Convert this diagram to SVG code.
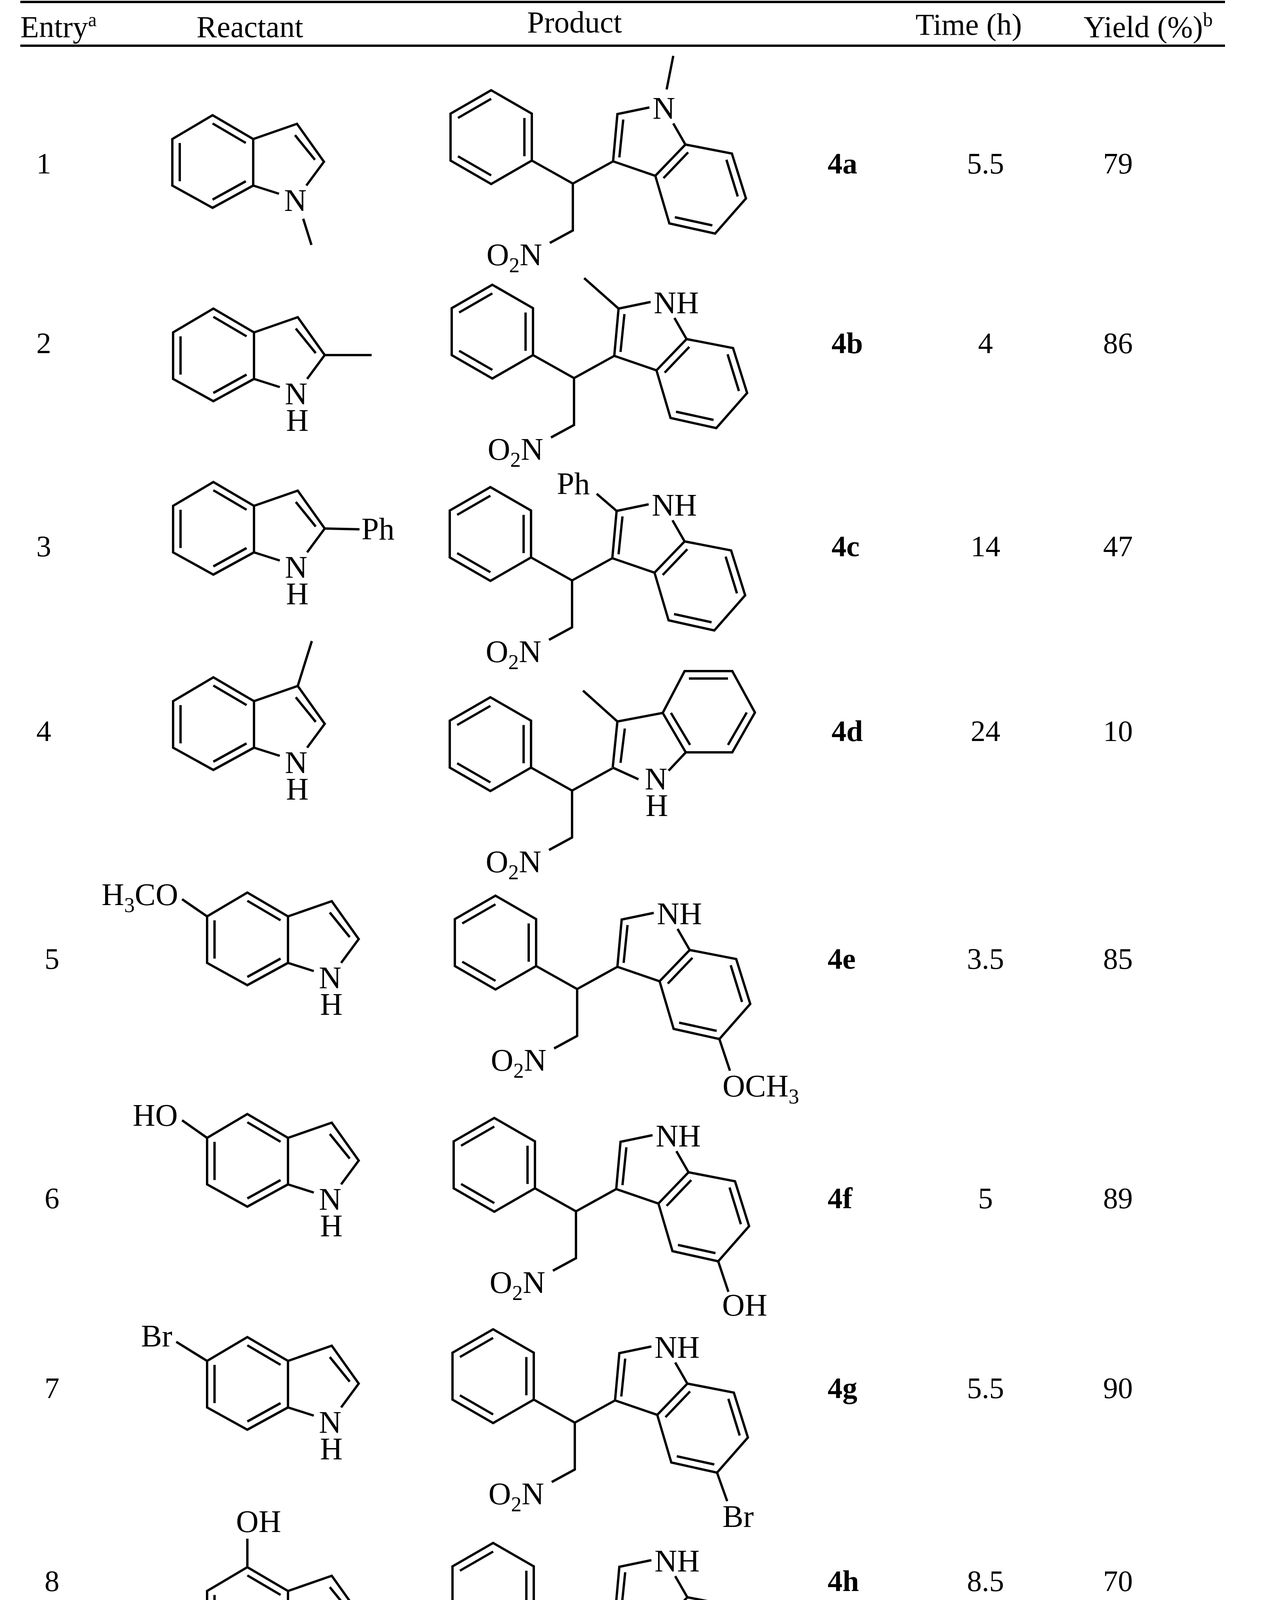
<svg xmlns="http://www.w3.org/2000/svg" width="3245" height="6665" viewBox="0 0 3245 6665">
<style>
.b{fill:none;stroke:#000;stroke-width:6;stroke-linejoin:miter}
.r{stroke:#000;stroke-width:6}
text{font-family:"Liberation Serif","Times New Roman",serif;fill:#000}
.a{font-size:80px}
.h{font-size:78px}
.n{font-size:76px}
.bo{font-size:76px;font-weight:bold}
.s{font-size:54px}
</style>
<defs>
<g id="frag">
<path class="b" d="M-105,-59 L0,0 L0,120 L-59,152 M0,0 L103,-57 M-209,-239 L-105,-179 L-105,-59 L-209,1 L-313,-59 L-313,-179 Z M-294,-168 L-209,-217 M-124,-168 L-124,-70 M-294,-70 L-209,-21"/>
<text class="a" x="-221" y="209">O<tspan class="s" dy="18">2</tspan><tspan dy="-18">N</tspan></text>
</g>
<g id="ind5"><path class="b" d="M103,-57 L114,-178 L196,-195 M257,-154 L288,-100 L211,-20 L103,-57 M119,-67 L129,-164 M232,-14 L295,-80"/></g>
<g id="ind6"><path class="b" d="M288,-100 L407,-77 L443,38 L364,128 L247,102 L211,-20 M393,-61 L422,33 M357,107 L261,86"/></g>
<g id="rind"><path class="b" d="M0,0 L-104,57 L-207,0 L-207,-119 L-104,-180 L0,-119 Z M0,-119 L112,-158 L181,-61 L136,0 M66,21 L0,0 M-188,-11 L-188,-109 M-104,-159 L-19,-109 M-104,36 L-19,-11 M107,-129 L158,-66"/></g>
<g id="rnh"><text class="a" x="79" y="65">N</text><text class="a" x="82" y="133">H</text></g>
</defs>

<g id="table-lines">
<path class="r" d="M52,5 H3135 M52,117 H3135 M20,4437 H3200 M20,4480 H3200 M20,4597 H3200 M34,6620 H3170"/>
</g>

<g id="header1">
<text class="h" x="52" y="95">Entry<tspan font-size="50" dy="-28">a</tspan></text>
<text class="h" x="503" y="95">Reactant</text>
<text class="h" x="1349" y="83">Product</text>
<text class="h" x="2343" y="89">Time (h)</text>
<text class="h" x="2773" y="95">Yield (%)<tspan font-size="50" dy="-28">b</tspan></text>
</g>
<g id="header2">
<text class="h" x="17" y="4563">Entry<tspan font-size="50" dy="-28">a</tspan></text>
<text class="h" x="616" y="4563">Reactant</text>
<text class="h" x="1388" y="4556">Product</text>
<text class="h" x="2324" y="4563">Time (h)</text>
<text class="h" x="2696" y="4563">Yield (%)<tspan font-size="50" dy="-28">b</tspan></text>
</g>

<g id="entries">
<text class="n" x="93" y="444">1</text>
<text class="n" x="93" y="904">2</text>
<text class="n" x="93" y="1424">3</text>
<text class="n" x="93" y="1897">4</text>
<text class="n" x="114" y="2480">5</text>
<text class="n" x="114" y="3093">6</text>
<text class="n" x="114" y="3579">7</text>
<text class="n" x="114" y="4073">8</text>
<text class="n" x="93" y="5002">9</text>
<text class="n" x="93" y="5467">10</text>
<text class="n" x="93" y="5847">11</text>
<text class="n" x="93" y="6312">12</text>
</g>
<g id="labels">
<text class="bo" x="2118" y="444">4a</text>
<text class="bo" x="2128" y="904">4b</text>
<text class="bo" x="2128" y="1424">4c</text>
<text class="bo" x="2128" y="1897">4d</text>
<text class="bo" x="2118" y="2480">4e</text>
<text class="bo" x="2118" y="3093">4f</text>
<text class="bo" x="2118" y="3579">4g</text>
<text class="bo" x="2118" y="4073">4h</text>
<text class="bo" x="2118" y="5002">4i</text>
<text class="bo" x="2118" y="5467">4j</text>
<text class="bo" x="2118" y="5847">4k</text>
<text class="bo" x="2118" y="6312">4l</text>
</g>
<g id="times" text-anchor="middle">
<text class="n" x="2522" y="444">5.5</text>
<text class="n" x="2522" y="904">4</text>
<text class="n" x="2522" y="1424">14</text>
<text class="n" x="2522" y="1897">24</text>
<text class="n" x="2522" y="2480">3.5</text>
<text class="n" x="2522" y="3093">5</text>
<text class="n" x="2522" y="3579">5.5</text>
<text class="n" x="2522" y="4073">8.5</text>
<text class="n" x="2565" y="5002">24</text>
<text class="n" x="2565" y="5467">36</text>
<text class="n" x="2565" y="5847">4</text>
<text class="n" x="2562" y="6312">10</text>
</g>
<g id="yields" text-anchor="middle">
<text class="n" x="2861" y="444">79</text>
<text class="n" x="2861" y="904">86</text>
<text class="n" x="2861" y="1424">47</text>
<text class="n" x="2861" y="1897">10</text>
<text class="n" x="2861" y="2480">85</text>
<text class="n" x="2861" y="3093">89</text>
<text class="n" x="2861" y="3579">90</text>
<text class="n" x="2861" y="4073">70</text>
<text class="n" x="2958" y="5002">55</text>
<text class="n" x="2958" y="5467">68</text>
<text class="n" x="2958" y="5847">85</text>
<text class="n" x="2958" y="6312">79</text>
</g>

<!-- Reactants -->
<g id="r1" transform="translate(648,475)"><use href="#rind"/><text class="a" x="79" y="65">N</text><path class="b" d="M128,85 L149,152"/></g>
<g id="r2" transform="translate(650,970)"><use href="#rind"/><use href="#rnh"/><path class="b" d="M181,-61 L301,-61"/></g>
<g id="r3" transform="translate(650,1414)"><use href="#rind"/><use href="#rnh"/><path class="b" d="M181,-61 L270,-59"/><text class="a" x="275" y="-33">Ph</text></g>
<g id="r4" transform="translate(650,1914)"><use href="#rind"/><use href="#rnh"/><path class="b" d="M112,-158 L148,-273"/></g>
<g id="r5" transform="translate(737,2465)"><use href="#rind"/><use href="#rnh"/><path class="b" d="M-207,-119 L-271,-163"/><text class="a" x="-281" y="-148" text-anchor="end">H<tspan class="s" dy="18">3</tspan><tspan dy="-18">CO</tspan></text></g>
<g id="r6" transform="translate(737,3032)"><use href="#rind"/><use href="#rnh"/><path class="b" d="M-207,-119 L-271,-164"/><text class="a" x="-282" y="-150" text-anchor="end">HO</text></g>
<g id="r7" transform="translate(737,3603)"><use href="#rind"/><use href="#rnh"/><path class="b" d="M-207,-119 L-286,-168"/><text class="a" x="-296" y="-156" text-anchor="end">Br</text></g>
<g id="r8" transform="translate(737,4192)"><use href="#rind"/><use href="#rnh"/><path class="b" d="M-104,-180 L-104,-253"/><text class="a" x="-133" y="-270">OH</text></g>
<g id="r9" transform="translate(704,4934)"><use href="#rind"/><use href="#rnh"/><path class="b" d="M-104,-180 L-104,-260"/><text class="a" x="-131" y="-266">OAc</text></g>
<g id="r10" transform="translate(704,5384)">
<path class="b" d="M-60,34 L0,0 L0,-119 L-104,-180 L-207,-119 L-207,0 L-151,38 M0,-119 L112,-158 L181,-61 L136,0 M66,21 L0,0 M-188,-11 L-188,-109 M-104,-159 L-19,-109 M-72,18 L-19,-11 M107,-129 L158,-66"/>
<text class="a" x="-128" y="94">N</text><use href="#rnh"/></g>
<g id="r11">
<path class="b" d="M665,5898 L608,5856 L642,5740 L759,5737 L799,5850 L745,5897 M658,5762 L633,5848 M745,5758 L773,5845"/>
<text class="a" x="675" y="5955">N</text><text class="a" x="677" y="6023">H</text></g>
<g id="r12">
<path class="b" d="M675,6388 L621,6345 L654,6229 L773,6227 L811,6340 L750,6388 M671,6251 L641,6334 M757,6248 L788,6334 M621,6345 L547,6374"/>
<text class="a" x="690" y="6448">O</text>
<text class="a" x="535" y="6417" text-anchor="end">H<tspan class="s" dy="18">3</tspan><tspan dy="-18">CO</tspan></text></g>

<!-- Products -->
<g id="p4a" transform="translate(1466,470)"><use href="#frag"/><use href="#ind5"/><use href="#ind6"/><text class="a" x="204" y="-166">N</text><path class="b" d="M240,-241 L257,-327"/></g>
<g id="p4b" transform="translate(1469,968)"><use href="#frag"/><use href="#ind5"/><use href="#ind6"/><text class="a" x="204" y="-166">NH</text><path class="b" d="M114,-178 L26,-256"/></g>
<g id="p4c" transform="translate(1464,1486)"><use href="#frag"/><use href="#ind5"/><use href="#ind6"/><text class="a" x="204" y="-166">NH</text><path class="b" d="M114,-178 L63,-222"/><text class="a" x="-39" y="-221">Ph</text></g>
<g id="p4d" transform="translate(1464,2024)"><use href="#frag"/>
<path class="b" d="M104,-59 L116,-177 L232,-199 L291,-98 L247,-51 M170,-29 L104,-59 M116,-177 L28,-256 M232,-199 L288,-306 L410,-306 L468,-200 L410,-98 L291,-98 M124,-71 L135,-159 M253,-199 L302,-117 M299,-287 L399,-287 M447,-200 L399,-117"/>
<text class="a" x="186" y="-3">N</text><text class="a" x="188" y="65">H</text></g>
<g id="p4e" transform="translate(1477,2532)"><use href="#frag"/><use href="#ind5"/><use href="#ind6"/><text class="a" x="204" y="-166">NH</text><path class="b" d="M364,128 L391,209"/><text class="a" x="372" y="275">OCH<tspan class="s" dy="18">3</tspan></text></g>
<g id="p4f" transform="translate(1474,3101)"><use href="#frag"/><use href="#ind5"/><use href="#ind6"/><text class="a" x="204" y="-166">NH</text><path class="b" d="M364,128 L390,206"/><text class="a" x="374" y="267">OH</text></g>
<g id="p4g" transform="translate(1471,3642)"><use href="#frag"/><use href="#ind5"/><use href="#ind6"/><text class="a" x="204" y="-166">NH</text><path class="b" d="M364,128 L390,201"/><text class="a" x="378" y="267">Br</text></g>
<g id="p4h" transform="translate(1471,4189)"><use href="#frag"/><use href="#ind5"/><use href="#ind6"/><text class="a" x="204" y="-166">NH</text><path class="b" d="M247,102 L197,160"/><text class="a" x="80" y="219">HO</text></g>
<g id="p4i" transform="translate(1508,4858)"><use href="#frag"/><use href="#ind5"/><use href="#ind6"/><text class="a" x="204" y="-166">NH</text><path class="b" d="M247,102 L199,163"/><text class="a" x="46" y="222">AcO</text></g>
<g id="p4j" transform="translate(1511,5359)"><use href="#frag"/><use href="#ind5"/>
<path class="b" d="M288,-100 L373,-78 M425,-15 L448,46 L364,128 L247,102 L211,-20 M408,-15 L429,42 M357,107 L261,86"/>
<text class="a" x="204" y="-166">NH</text><text class="a" x="385" y="-41">N</text></g>
<g id="p4k" transform="translate(1509,5874)"><use href="#frag"/>
<path class="b" d="M103,-57 L117,-180 L232,-203 L291,-100 L247,-40 M169,-25 L103,-57 M126,-65 L137,-157 M220,-173 L266,-100"/>
<text class="a" x="188" y="21">N</text><text class="a" x="190" y="89">H</text></g>
<g id="p4l" transform="translate(1511,6374)"><use href="#frag"/>
<path class="b" d="M101,-58 L115,-182 L230,-205 L291,-100 L238,-43 M178,-29 L101,-58 M124,-68 L135,-170 M221,-188 L270,-108 M291,-100 L379,-86"/>
<text class="a" x="187" y="15">O</text><text class="a" x="385" y="-58">OCH<tspan class="s" dy="18">3</tspan></text></g>
</svg>
